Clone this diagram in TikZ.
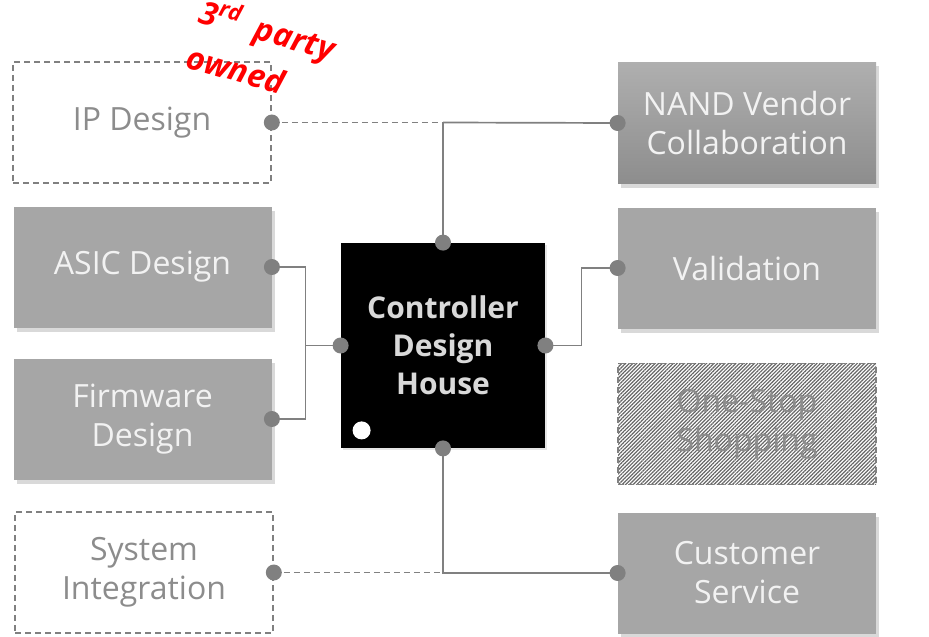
\documentclass[tikz,border=0pt]{standalone}
\usepackage{fontspec}
\setmainfont{Open Sans}
\usepackage{tikz}
\usetikzlibrary{positioning,shadows,patterns.meta}
\definecolor{boxgray}{HTML}{A6A6A6}
\definecolor{linegray}{HTML}{808080}
\definecolor{textgray}{HTML}{8C8C8C}

\begin{document}
\begin{tikzpicture}[
    x=0.5pt, y=-0.5pt,
    gbox/.style={fill=boxgray, text=white!95!black, align=center, inner sep=0pt,
        minimum width=129pt, minimum height=60.5pt, font=\fontsize{16}{19.5}\selectfont,
        drop shadow={shadow xshift=1.5pt, shadow yshift=-2pt, opacity=.3}},
    extbox/.style={draw=linegray, dash pattern=on 3pt off 2pt, line width=0.8pt,
        text=textgray, align=center, inner sep=0pt, minimum width=129pt,
        minimum height=60.5pt, font=\fontsize{16}{19.5}\selectfont},
    hub/.style={fill=black, text=white!85!black, align=center, inner sep=0pt,
        minimum width=102pt, minimum height=102.5pt, font=\fontsize{15}{19}\selectfont\bfseries,
        drop shadow={shadow xshift=1pt, shadow yshift=-1pt, opacity=.2}},
    link/.style={draw=linegray, line width=0.85pt},
    extlink/.style={link, line width=0.95pt, dash pattern=on 3pt off 2pt},
    joint/.style={fill=linegray}
]
    \useasboundingbox (0,0) rectangle (929,636);

    \node[hub] (hub) at (443,345.5) {Controller\\Design\\House};

    \node[extbox] (ip) at (142,122.5) {IP Design};
    \node[gbox] (asic) at (142.5,267) {ASIC Design};
    \node[gbox] (fw) at (142.5,419) {Firmware\\Design};
    \node[extbox] (si) at (144,572.5) {System\\Integration};

    \node[gbox, top color=boxgray!90!white, bottom color=boxgray!85!black] (nand) at (747,123) {NAND Vendor\\Collaboration};
    \node[gbox] (val) at (747,268) {Validation};
    \node[extbox, pattern={Lines[angle=45, distance=1.3pt, line width=0.6pt]},
        pattern color=gray!80!black] (oss) at (747,424) {One-Stop\\Shopping};
    \node[gbox] (cs) at (747,573) {Customer\\Service};

    \node[text=red, rotate=-16, align=left, font=\fontsize{16}{23}\selectfont\itshape\bfseries]
        (note) at (262,50) {3\textsuperscript{rd}~ party\\owned};

    \path (hub.west) ++(-35,0) coordinate (lj);
    \path (hub.east) ++(36,0) coordinate (rj);

    \draw[link] (asic.east) -| (lj) -- (hub.west);
    \draw[link] (fw.east) -| (lj);
    \draw[link] (hub.east) -- (rj) |- (val.west);
    \draw[extlink] (ip.east) -- (ip.east -| hub.north);
    \draw[link] (ip.east -| hub.north) -- (nand.west);
    \draw[link] (hub.north) -- (hub.north |- nand.west);
    \draw[link] (hub.south) |- (cs.west);
    \draw[extlink] (si.east) -- (si.east -| hub.south);

    \foreach \p in {ip.east, asic.east, fw.east, si.east, nand.west, val.west, cs.west,
        hub.north, hub.south, hub.west, hub.east}
        \fill[joint] (\p) circle (4pt);
    \fill[white] (hub.south west) ++(21,-18) circle (4.5pt);
\end{tikzpicture}
\end{document}
